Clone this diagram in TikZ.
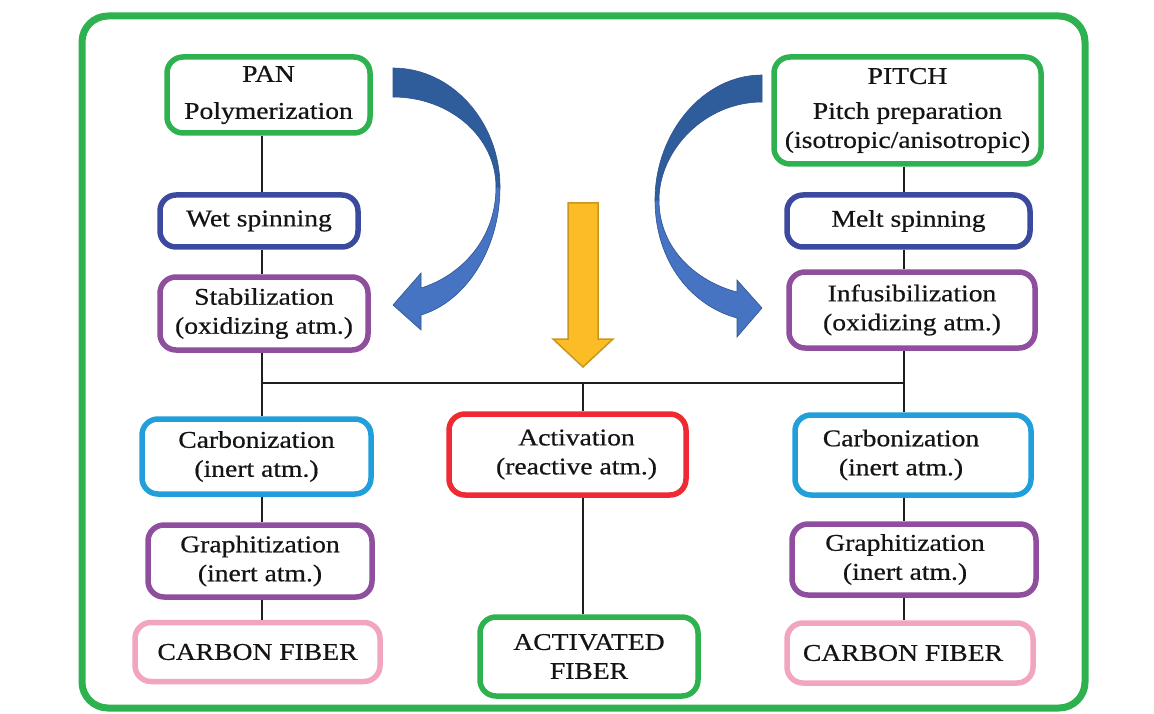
\documentclass[tikz,border=0pt]{standalone}
\usepackage{fontspec}
\setmainfont{Liberation Serif}[FakeStretch=1.15,FakeBold=0.6]
\definecolor{gr}{HTML}{2EB24F}
\definecolor{db}{HTML}{3B4A9E}
\definecolor{pu}{HTML}{8F4F9E}
\definecolor{lb}{HTML}{209FDA}
\definecolor{rd}{HTML}{EE2A33}
\definecolor{pk}{HTML}{F2A5BE}
\definecolor{bluedk}{HTML}{2F5C9B}
\definecolor{bluelt}{HTML}{4674C2}
\definecolor{blueedge}{HTML}{2F528F}
\definecolor{yel}{HTML}{FBBC26}
\definecolor{yeld}{HTML}{C9971E}
\begin{document}
\begin{tikzpicture}[x=1pt,y=-1pt,
  box/.style={draw, rounded corners=16pt, line width=5.5pt, align=center,
    font=\fontsize{24}{29}\selectfont, inner sep=0pt, text=black!92},
  conn/.style={draw=black!88, line width=1.5pt},
  bluepart/.style={draw=blueedge, line width=0.6pt}]
\useasboundingbox (0,0) rectangle (1154,714);
% outer frame
\draw[gr, line width=7pt, rounded corners=26pt] (82,16) rectangle (1085,708);

% left column (PAN)
\node[box, draw=gr, minimum width=203pt, minimum height=76pt] (pan) at (268.5,95) {PAN\\[8pt]Polymerization};
\node[box, draw=db, minimum width=198pt, minimum height=52pt] (wet) at (259,221) {Wet spinning};
\node[box, draw=pu, minimum width=208pt, minimum height=73pt] (stab) at (264,313.5) {Stabilization\\(oxidizing atm.)};
\node[box, draw=lb, minimum width=229pt, minimum height=75pt] (carbL) at (256.5,456.5) {Carbonization\\(inert atm.)};
\node[box, draw=pu, minimum width=224pt, minimum height=72pt] (graphL) at (260,561) {Graphitization\\(inert atm.)};
\node[box, draw=pk, minimum width=245pt, minimum height=59pt] (cfL) at (257.5,652) {CARBON FIBER};

% right column (PITCH)
\node[box, draw=gr, minimum width=267pt, minimum height=107pt] (pitch) at (907.5,110.5) {PITCH\\[6pt]Pitch preparation\\(isotropic/anisotropic)};
\node[box, draw=db, minimum width=243pt, minimum height=52pt] (melt) at (908.5,221) {Melt spinning};
\node[box, draw=pu, minimum width=246pt, minimum height=76pt] (infus) at (912,310) {Infusibilization\\(oxidizing atm.)};
\node[box, draw=lb, minimum width=236pt, minimum height=80pt] (carbR) at (913,455) {Carbonization\hspace*{24pt}\\(inert atm.)\hspace*{24pt}};
\node[box, draw=pu, minimum width=244pt, minimum height=71pt] (graphR) at (914,559.5) {Graphitization\hspace*{18pt}\\(inert atm.)\hspace*{18pt}};
\node[box, draw=pk, minimum width=246pt, minimum height=60pt] (cfR) at (910,653) {CARBON FIBER\hspace*{14pt}};

% middle column
\node[box, draw=rd, minimum width=237pt, minimum height=81pt] (act) at (567.5,454.5) {\hspace*{18pt}Activation\\\hspace*{18pt}(reactive atm.)};
\node[box, draw=gr, minimum width=218pt, minimum height=79pt] (actf) at (589,656.5) {ACTIVATED\\FIBER};

% junctions
\coordinate (jl) at (262,383);
\coordinate (jr) at (904,383);
\coordinate (jm) at (583,383);

% connectors
\draw[conn] (pan.south -| jl) -- (wet.north -| jl);
\draw[conn] (wet.south -| jl) -- (stab.north -| jl);
\draw[conn] (stab.south -| jl) -- (carbL.north -| jl);
\draw[conn] (carbL.south -| jl) -- (graphL.north -| jl);
\draw[conn] (graphL.south -| jl) -- (cfL.north -| jl);
\draw[conn] (pitch.south -| jr) -- (melt.north -| jr);
\draw[conn] (melt.south -| jr) -- (infus.north -| jr);
\draw[conn] (infus.south -| jr) -- (carbR.north -| jr);
\draw[conn] (carbR.south -| jr) -- (graphR.north -| jr);
\draw[conn] (graphR.south -| jr) -- (cfR.north -| jr);
\draw[conn] (jl) -- (jr);
\draw[conn] (jm) -- (act.north -| jm);
\draw[conn] (act.south -| jm) -- (actf.north -| jm);

% left curved blue arrow
\fill[bluedk, bluepart] (393,68) .. controls (452,68) and (500,122) .. (500,187)
  -- (496,187) .. controls (496,137) and (450,97) .. (393,97) -- cycle;
\fill[bluelt, bluepart] (500,187) .. controls (500,250) and (465,302) .. (421,315)
  -- (421,330) -- (393,305) -- (421,273) -- (421,288)
  .. controls (460,276) and (496,240) .. (496,187) -- cycle;

% right curved blue arrow
\fill[bluedk, bluepart] (762,75) .. controls (703,75) and (655,133) .. (655,200)
  -- (659,200) .. controls (659,150) and (705,102) .. (762,102) -- cycle;
\fill[bluelt, bluepart] (655,200) .. controls (655,262) and (692,306) .. (737,318)
  -- (737,337) -- (762,308) -- (737,280) -- (737,292)
  .. controls (698,282) and (659,250) .. (659,200) -- cycle;

% yellow arrow
\filldraw[fill=yel, draw=yeld, line width=1.5pt, line join=miter]
  (568,203) -- (598,203) -- (598,339) -- (613,339) -- (583,367) -- (553,339) -- (568,339) -- cycle;
\end{tikzpicture}
\end{document}
